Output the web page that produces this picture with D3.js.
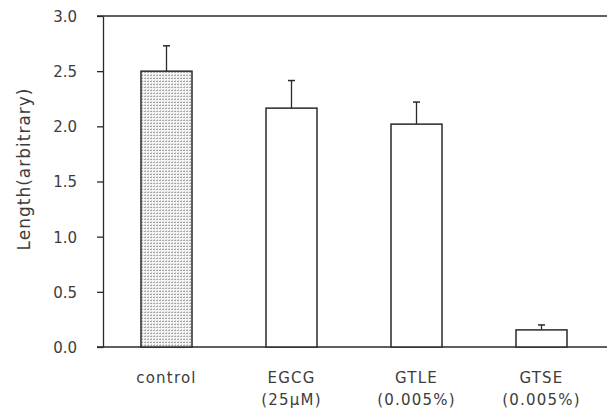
<!DOCTYPE html>
<html>
<head>
<meta charset="utf-8">
<script src="https://cdn.jsdelivr.net/npm/d3@7"></script>
<style>
  html, body { margin: 0; padding: 0; background: #fff; }
  svg { display: block; }
</style>
</head>
<body>
<svg id="chart" width="607" height="414"></svg>
<script>
// ---- data ----
const categories = ["control", "EGCG", "GTLE", "GTSE"];
const subLabels = ["", "(25\u00B5M)", "(0.005%)", "(0.005%)"];
const values = [2.50, 2.165, 2.02, 0.155];
const errors = [0.23, 0.25, 0.20, 0.045];
const yTicks = [0.0, 0.5, 1.0, 1.5, 2.0, 2.5, 3.0];
const yTitle = "Length(arbitrary)";

// ---- layout ----
const W = 607, H = 414;
const svg = d3.select("#chart");
const ink = "#2a2a2a";
const textInk = "#3c3c3c";

const y = d3.scaleLinear().domain([0, 3]).range([347, 16]);
const x = d3.scaleBand().domain(categories).range([104, 604])
  .paddingInner(0.592).paddingOuter(0.296);

// stipple pattern for control bar
const defs = svg.append("defs");
const pat = defs.append("pattern").attr("id", "stipple")
  .attr("patternUnits", "userSpaceOnUse").attr("width", 3).attr("height", 3);
pat.append("rect").attr("width", 3).attr("height", 3).attr("fill", "#f4f4f4");
pat.append("rect").attr("x", 0).attr("y", 0).attr("width", 2).attr("height", 1).attr("fill", "#a8a8a8");
pat.append("rect").attr("x", 1).attr("y", 2).attr("width", 1).attr("height", 1).attr("fill", "#cfcfcf");

// top frame line and baseline
svg.append("line").attr("x1", 97).attr("x2", W).attr("y1", y(3)).attr("y2", y(3))
  .attr("stroke", ink).attr("stroke-width", 1.5);
svg.append("line").attr("x1", 97).attr("x2", W).attr("y1", y(0)).attr("y2", y(0))
  .attr("stroke", ink).attr("stroke-width", 1.5);

// y axis
const yAxis = d3.axisLeft(y).tickValues(yTicks).tickFormat(d3.format(".1f"))
  .tickSize(6).tickSizeOuter(0).tickPadding(20);
const ga = svg.append("g").attr("transform", "translate(103,0)").call(yAxis);
ga.select(".domain").attr("stroke", ink).attr("stroke-width", 1.3);
ga.selectAll(".tick line").attr("stroke", ink).attr("stroke-width", 1.3);
ga.selectAll(".tick text").attr("font-family", "DejaVu Sans").attr("font-size", 15)
  .attr("fill", textInk).attr("dy", "0.36em");

// y title
svg.append("text")
  .attr("transform", "translate(30,169) rotate(-90)")
  .attr("text-anchor", "middle")
  .attr("font-family", "DejaVu Sans").attr("font-size", 17)
  .attr("letter-spacing", 1)
  .attr("fill", textInk)
  .text(yTitle);

// bars
svg.selectAll("rect.bar").data(categories).enter().append("rect")
  .attr("class", "bar")
  .attr("x", d => x(d))
  .attr("y", (d, i) => y(values[i]))
  .attr("width", x.bandwidth())
  .attr("height", (d, i) => y(0) - y(values[i]))
  .attr("fill", (d, i) => i === 0 ? "url(#stipple)" : "#fff")
  .attr("stroke", ink).attr("stroke-width", 1.5);

// error bars (upper only)
const eg = svg.selectAll("g.err").data(categories).enter().append("g").attr("class", "err");
eg.append("line")
  .attr("x1", d => x(d) + x.bandwidth() / 2).attr("x2", d => x(d) + x.bandwidth() / 2)
  .attr("y1", (d, i) => y(values[i])).attr("y2", (d, i) => y(values[i] + errors[i]))
  .attr("stroke", ink).attr("stroke-width", 1.3);
eg.append("line")
  .attr("x1", d => x(d) + x.bandwidth() / 2 - 3.5).attr("x2", d => x(d) + x.bandwidth() / 2 + 3.5)
  .attr("y1", (d, i) => y(values[i] + errors[i])).attr("y2", (d, i) => y(values[i] + errors[i]))
  .attr("stroke", ink).attr("stroke-width", 1.5);

// x labels
const xl = svg.selectAll("text.xl").data(categories).enter().append("text")
  .attr("class", "xl")
  .attr("text-anchor", "middle")
  .attr("font-family", "DejaVu Sans").attr("font-size", 15)
  .attr("letter-spacing", 1.2)
  .attr("fill", textInk);
xl.append("tspan").attr("x", d => x(d) + x.bandwidth() / 2).attr("y", 383).text(d => d);
xl.append("tspan").attr("x", d => x(d) + x.bandwidth() / 2).attr("y", 405)
  .text((d, i) => subLabels[i]);
</script>
</body>
</html>
